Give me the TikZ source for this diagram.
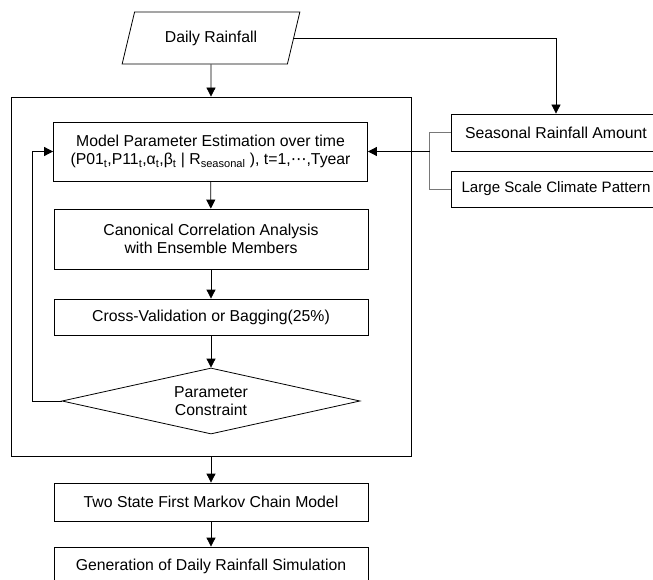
\documentclass[tikz,border=0pt]{standalone}
\usepackage{fontspec}
\setmainfont{Liberation Sans}
\newfontfamily\dotsfont{DejaVu Sans}
\usetikzlibrary{arrows.meta, shapes.geometric}
\definecolor{mygray}{RGB}{120,120,120}
\tikzstyle{process} = [draw, line width=0.8bp, minimum width=314bp,
    inner sep=0, align=center, font=\fontsize{15.8bp}{18bp}\selectfont]
\tikzstyle{input} = [draw, line width=0.8bp, trapezium,
    trapezium left angle=63, trapezium right angle=117,
    trapezium stretches=true, minimum width=178bp, minimum height=52bp,
    inner sep=0, font=\fontsize{15.8bp}{18bp}\selectfont]
\tikzstyle{decision} = [draw, line width=0.8bp, diamond, aspect=4.5,
    minimum width=298bp, minimum height=66bp, inner sep=0, align=center,
    font=\fontsize{15.8bp}{18bp}\selectfont]
\tikzstyle{outer} = [draw, line width=0.8bp, minimum width=400bp,
    minimum height=359bp, inner sep=0]
\tikzstyle{side} = [draw, line width=0.8bp, minimum width=210bp,
    inner sep=0, font=\fontsize{15.8bp}{18bp}\selectfont]
\tikzstyle{arr} = [-{Triangle[length=9bp,width=9bp]}, line width=0.8bp]

\begin{document}
\begin{tikzpicture}[x=1bp,y=-1bp]
\clip (0,0) rectangle (653,580);

% 1. Input data
\node[input] (rain) at (211,38) {Daily Rainfall};

% 2. Loop frame and its steps
\node[outer] (loop) at (211,276.5) {};
\node[process, minimum height=59bp] (model) at (210.5,151.5)
    {Model Parameter Estimation over time\\
     (P01\textsubscript{t},P11\textsubscript{t},α\textsubscript{t},β\textsubscript{t} | R\textsubscript{seasonal} ), t=1,{\dotsfont ⋯},Tyear};
\node[process, minimum height=60bp] (cca) at (211,239)
    {Canonical Correlation Analysis\\with Ensemble Members};
\node[process, minimum height=36bp] (cv) at (211,317)
    {Cross-Validation or Bagging(25\%)};
\node[decision] (check) at (211,401) {Parameter\\Constraint};

% 3. Predictors on the right
\node[side, minimum height=37bp] (season) at (556,132.5) {Seasonal Rainfall Amount};
\node[side, minimum height=36bp, font=\fontsize{15.1bp}{18bp}\selectfont] (large) at (556,189)
    {Large Scale Climate Pattern};

% 4. Output steps
\node[process, minimum height=38bp] (two) at (211,502) {Two State First Markov Chain Model};
\node[process, minimum height=38bp] (gen) at (211,566) {Generation of Daily Rainfall Simulation};

% connectors
\draw[arr] (rain.south) -- (loop.north);
\draw[arr] (rain.east) -| (season.north);
\draw[arr] (model) -- (cca);
\draw[arr] (cca) -- (cv);
\draw[arr] (cv) -- (check);
\draw[arr] (check.west) -- ++(-29,0) |- (model.west);
\draw[mygray, line width=0.8bp] (season.west) -- ++(-21,0) coordinate (join) |- (large.west);
\draw[arr] (join |- model.east) -- (model.east);
\draw[arr] (loop.south) -- (two.north);
\draw[arr] (two) -- (gen);

\end{tikzpicture}
\end{document}
